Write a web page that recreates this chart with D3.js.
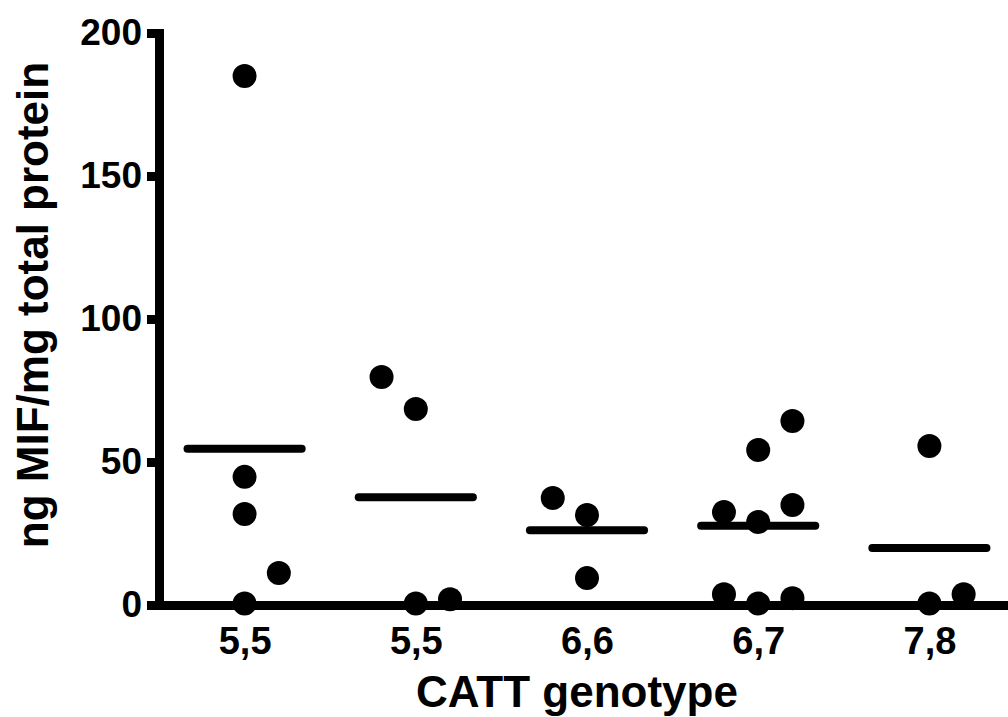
<!DOCTYPE html>
<html>
<head>
<meta charset="utf-8">
<script src="https://cdn.jsdelivr.net/npm/d3@7"></script>
<style>
  body { margin: 0; background: #fff; }
  text { font-family: "Liberation Sans", Arial, sans-serif; font-weight: bold; fill: #000; }
</style>
</head>
<body>
<svg id="chart"></svg>
<script>
let width = 1008, height = 717;

// genotype groups (two groups share the "5,5" label)
let genotypes = ["5,5", "5,5", "6,6", "6,7", "7,8"];
let yTicks = [0, 50, 100, 150, 200];

// values per group (ng MIF / mg total protein) and the side slot GraphPad used
let group1 = [185, 44.8, 31.8, 11.2, 0.5];
let slot1  = [0, 0, 0, 1, 0];
let group2 = [79.7, 68.5, 0.5, 2];
let slot2  = [-1, 0, 0, 1];
let group3 = [37.4, 31.5, 9.4];
let slot3  = [-1, 0, 0];
let group4 = [32.5, 29, 35, 54.2, 64.3, 3.8, 0.5, 2.4];
let slot4  = [-1, 0, 1, 0, 1, -1, 0, 1];
let group5 = [55.6, 0.5, 3.8];
let slot5  = [0, 0, 1];

let groups = [group1, group2, group3, group4, group5];
let slots = [slot1, slot2, slot3, slot4, slot5];

let svg = d3.select("#chart")
            .attr("width", width)
            .attr("height", height);

let x = d3.scalePoint().domain(d3.range(genotypes.length)).range([159, 1015]).padding(0.5);
let y = d3.scaleLinear().domain([0, 200]).range([605, 33]);
let step = x.step();

// points
let points = [];
groups.forEach((g, i) => g.forEach((v, j) => points.push({group: i, value: v, slot: slots[i][j]})));

svg.append("g").selectAll("circle")
    .data(points)
    .join("circle")
    .attr("cx", d => x(d.group) + d.slot * step * 0.2)
    .attr("cy", d => y(d.value))
    .attr("r", 12)
    .style("fill", "#000");

// mean lines
svg.append("g").selectAll("line")
    .data(groups)
    .join("line")
    .attr("x1", (g, i) => x(i) - step / 3)
    .attr("x2", (g, i) => x(i) + step / 3)
    .attr("y1", g => y(d3.mean(g)))
    .attr("y2", g => y(d3.mean(g)))
    .style("stroke", "#000")
    .style("stroke-width", 8)
    .style("stroke-linecap", "round");

// x axis (drawn over the points sitting on zero)
let x_axis = svg.append("g")
    .attr("transform", `translate(0,${y(0)})`)
    .call(d3.axisBottom(x).tickSize(0).tickSizeOuter(0).tickPadding(22).tickFormat(i => genotypes[i]));
x_axis.select(".domain").style("stroke", "#000").style("stroke-width", 9);
x_axis.selectAll("text").style("font-size", "38px");

// y axis
let y_axis = svg.append("g")
    .attr("transform", "translate(159,0)")
    .call(d3.axisLeft(y).tickValues(yTicks).tickSize(12).tickSizeOuter(0).tickPadding(5));
y_axis.select(".domain").style("stroke", "#000").style("stroke-width", 9).style("stroke-linecap", "square");
y_axis.selectAll("line").style("stroke", "#000").style("stroke-width", 9);
y_axis.selectAll("text").style("font-size", "37px");

//x label
svg.append("text")
    .attr("transform", "translate(577,707)")
    .style("text-anchor", "middle")
    .style("font-size", "44px")
    .text("CATT genotype");

//y label
svg.append("text")
    .attr("transform", "translate(48,305) rotate(-90)")
    .style("text-anchor", "middle")
    .style("font-size", "44px")
    .text("ng MIF/mg total protein");
</script>
</body>
</html>
